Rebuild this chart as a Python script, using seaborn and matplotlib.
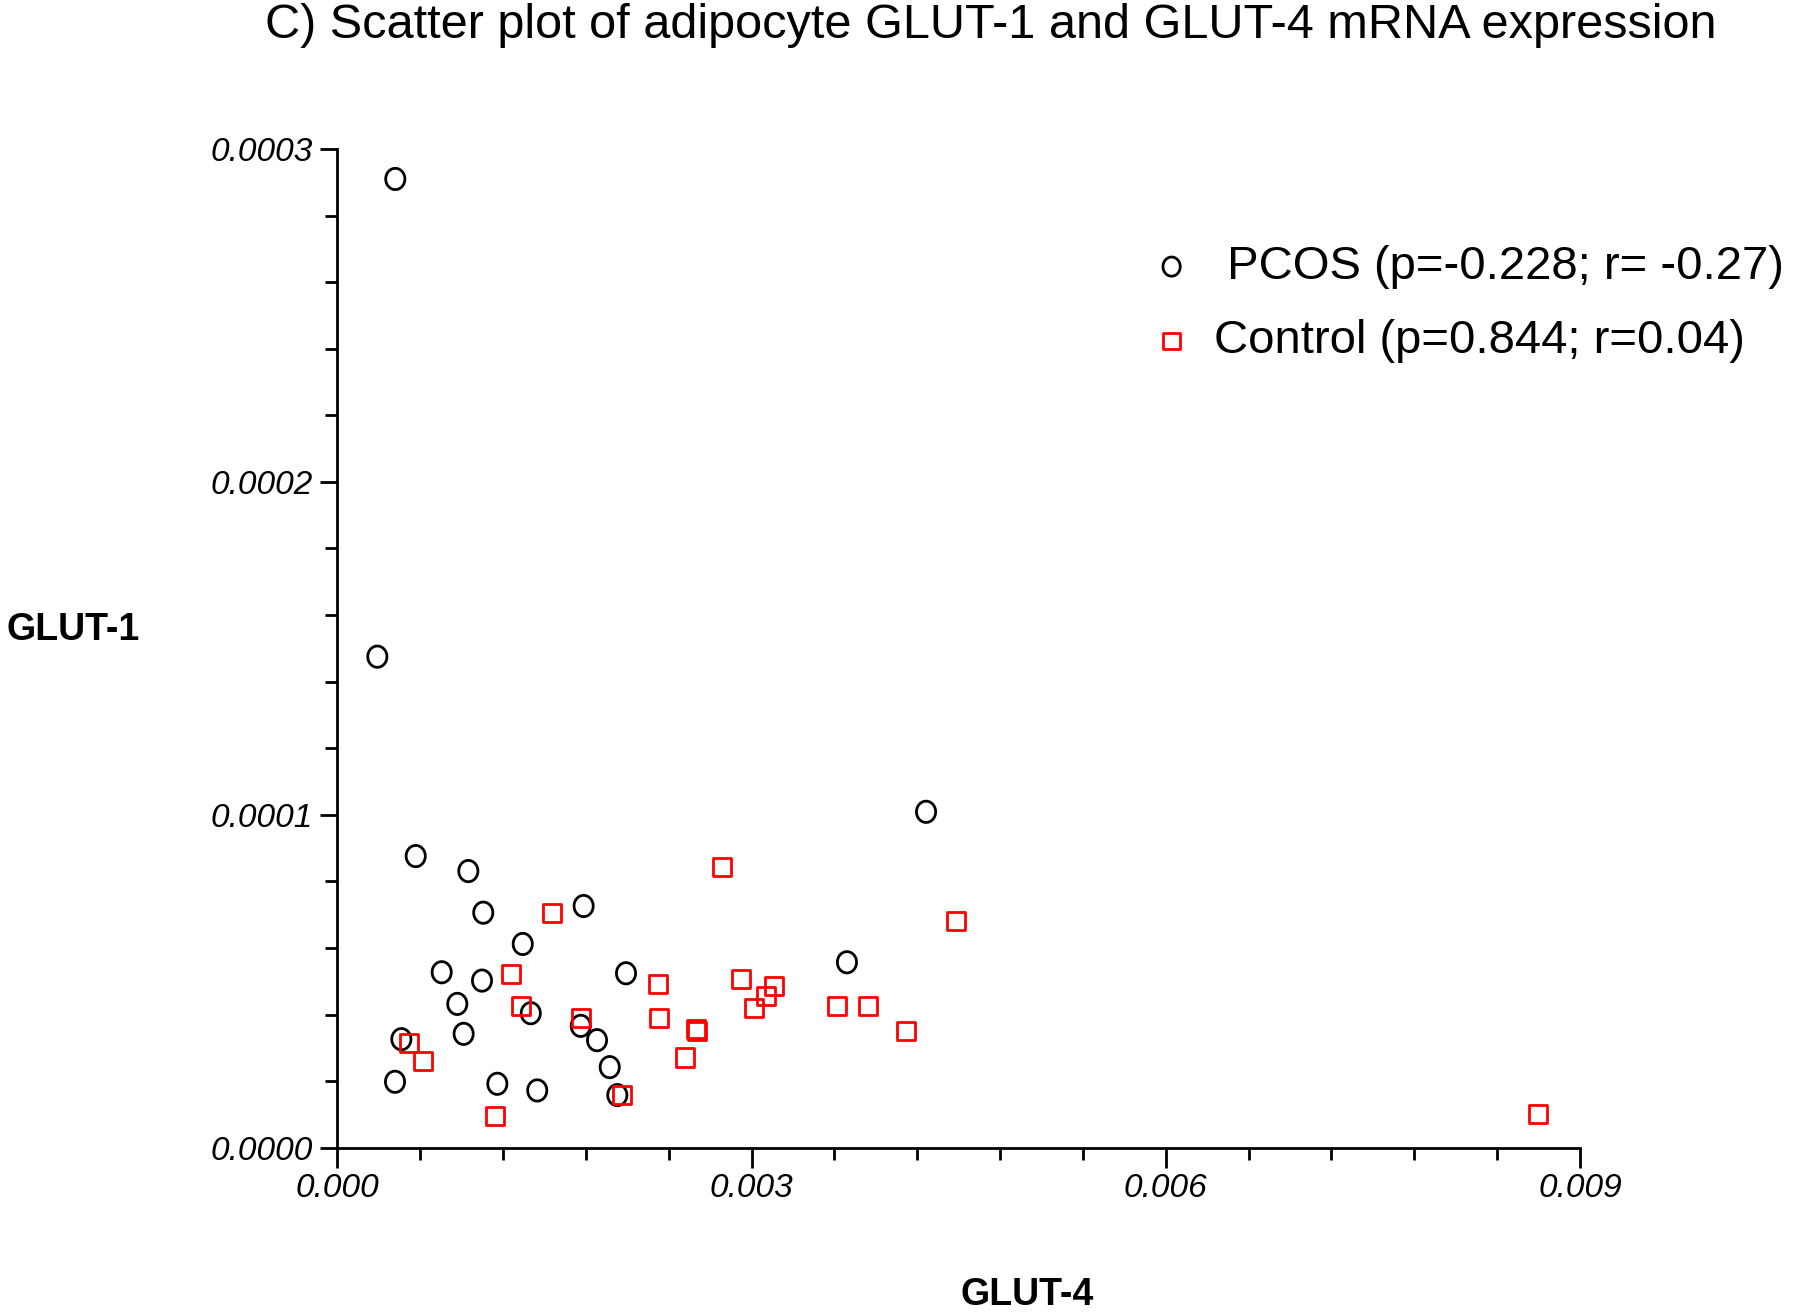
import numpy as np
import pandas as pd
import matplotlib
matplotlib.use("Agg")
import matplotlib.pyplot as plt
from matplotlib.path import Path
from matplotlib.ticker import MultipleLocator, FixedLocator, FixedFormatter
import seaborn as sns

# ---------------- data ----------------
pcos_glut4 = [0.00042, 0.00029, 0.000568, 0.000949, 0.001057, 0.001784, 0.001343,
              0.000756, 0.001048, 0.002091, 0.000869, 0.001401, 0.000464, 0.000915,
              0.001763, 0.001881, 0.001973, 0.002028, 0.000418, 0.001159, 0.001448,
              0.004264, 0.003691]
pcos_glut1 = [2.91e-4, 1.475e-4, 8.76e-5, 8.31e-5, 7.06e-5, 7.26e-5, 6.12e-5,
              5.27e-5, 5.02e-5, 5.24e-5, 4.32e-5, 4.04e-5, 3.26e-5, 3.42e-5,
              3.66e-5, 3.23e-5, 2.42e-5, 1.58e-5, 1.98e-5, 1.92e-5, 1.72e-5,
              1.009e-4, 5.57e-5]

ctrl_glut4 = [0.002784, 0.001553, 0.001258, 0.001333, 0.002325, 0.002921, 0.001763,
              0.002332, 0.002595, 0.002608, 0.00252, 0.000521, 0.000618, 0.00114,
              0.002062, 0.00316, 0.003105, 0.003018, 0.003617, 0.003844, 0.004119,
              0.004479, 0.008698]
ctrl_glut1 = [8.44e-5, 7.06e-5, 5.21e-5, 4.26e-5, 4.91e-5, 5.06e-5, 3.89e-5,
              3.89e-5, 3.56e-5, 3.50e-5, 2.71e-5, 3.15e-5, 2.60e-5, 9.6e-6,
              1.58e-5, 4.86e-5, 4.56e-5, 4.20e-5, 4.26e-5, 4.26e-5, 3.50e-5,
              6.81e-5, 1.0e-5]

pcos_label = " PCOS (p=-0.228; r= -0.27)"
ctrl_label = "Control (p=0.844; r=0.04)"
title_text = "C) Scatter plot of adipocyte GLUT-1 and GLUT-4 mRNA expression"
xlabel_text = "GLUT-4"
ylabel_text = "GLUT-1"
x_major = [0.0, 0.003, 0.006, 0.009]
x_major_labels = ["0.000", "0.003", "0.006", "0.009"]
y_major = [0.0, 0.0001, 0.0002, 0.0003]
y_major_labels = ["0.0000", "0.0001", "0.0002", "0.0003"]

# ---------------- style ----------------
sns.set_style("ticks")
plt.rcParams["font.family"] = ["Liberation Sans", "DejaVu Sans"]
plt.rcParams["text.color"] = "black"
plt.rcParams["axes.labelcolor"] = "black"
plt.rcParams["xtick.color"] = "black"
plt.rcParams["ytick.color"] = "black"

fig = plt.figure(figsize=(18, 13.14), dpi=100)
ax = fig.add_axes([337.3 / 1800, 1 - 1147.7 / 1314, (1580 - 337.3) / 1800, (1147.7 - 149) / 1314])

# slightly tall ellipse marker
t = np.linspace(0, 2 * np.pi, 60)
ell = Path(np.column_stack([0.45 * np.cos(t), 0.5 * np.sin(t)]), closed=True)

df_p = pd.DataFrame({"GLUT-4": pcos_glut4, "GLUT-1": pcos_glut1})
df_c = pd.DataFrame({"GLUT-4": ctrl_glut4, "GLUT-1": ctrl_glut1})

sns.scatterplot(data=df_p, x="GLUT-4", y="GLUT-1", ax=ax, marker=ell, s=235,
                facecolor="none", edgecolor="black", linewidth=2.0,
                label=pcos_label, clip_on=False, zorder=3)
sns.scatterplot(data=df_c, x="GLUT-4", y="GLUT-1", ax=ax, marker="s", s=170,
                facecolor="none", edgecolor="#ff0000", linewidth=2.0,
                label=ctrl_label, clip_on=False, zorder=4)

ax.set_xlim(0, 0.009)
ax.set_ylim(0, 0.0003)
for s in ["top", "right"]:
    ax.spines[s].set_visible(False)
for s in ["left", "bottom"]:
    ax.spines[s].set_linewidth(2.0)
    ax.spines[s].set_color("black")

ax.xaxis.set_major_locator(FixedLocator(x_major))
ax.xaxis.set_major_formatter(FixedFormatter(x_major_labels))
ax.yaxis.set_major_locator(FixedLocator(y_major))
ax.yaxis.set_major_formatter(FixedFormatter(y_major_labels))
ax.xaxis.set_minor_locator(MultipleLocator(0.0006))
ax.yaxis.set_minor_locator(MultipleLocator(0.00002))

ax.tick_params(axis="x", which="major", length=14.5, width=2.0, pad=4, labelsize=24,
               color="black", labelcolor="black")
ax.tick_params(axis="y", which="major", length=12.5, width=2.0, pad=5, labelsize=24,
               color="black", labelcolor="black")
ax.tick_params(which="minor", length=8.5, width=2.0, color="black")
for lab in ax.get_xticklabels() + ax.get_yticklabels():
    lab.set_fontstyle("italic")

ax.set_xlabel(xlabel_text, fontsize=27, fontweight="bold", color="black")
ax.set_ylabel(ylabel_text, fontsize=27, fontweight="bold", rotation=0, color="black")
ax.xaxis.set_label_coords(0.555, -0.1475)
ax.xaxis.label.set_va("center")
ax.yaxis.set_label_coords(-0.2127, 0.5184)
ax.yaxis.label.set_va("center")
ax.yaxis.label.set_ha("center")

fig.text(991 / 1800, 1 - 25 / 1314, title_text, ha="center", va="center",
         fontsize=35, color="black")

leg = ax.legend(loc="upper left", bbox_to_anchor=(1148 / 1800, 1 - 245 / 1314),
                bbox_transform=fig.transFigure, frameon=False, fontsize=34,
                borderpad=0, borderaxespad=0, handlelength=1.0, handletextpad=0.4,
                labelspacing=0.64, markerscale=0.9)
for txt in leg.get_texts():
    txt.set_color("black")

fig.savefig("out.png", dpi=100, facecolor="white")
